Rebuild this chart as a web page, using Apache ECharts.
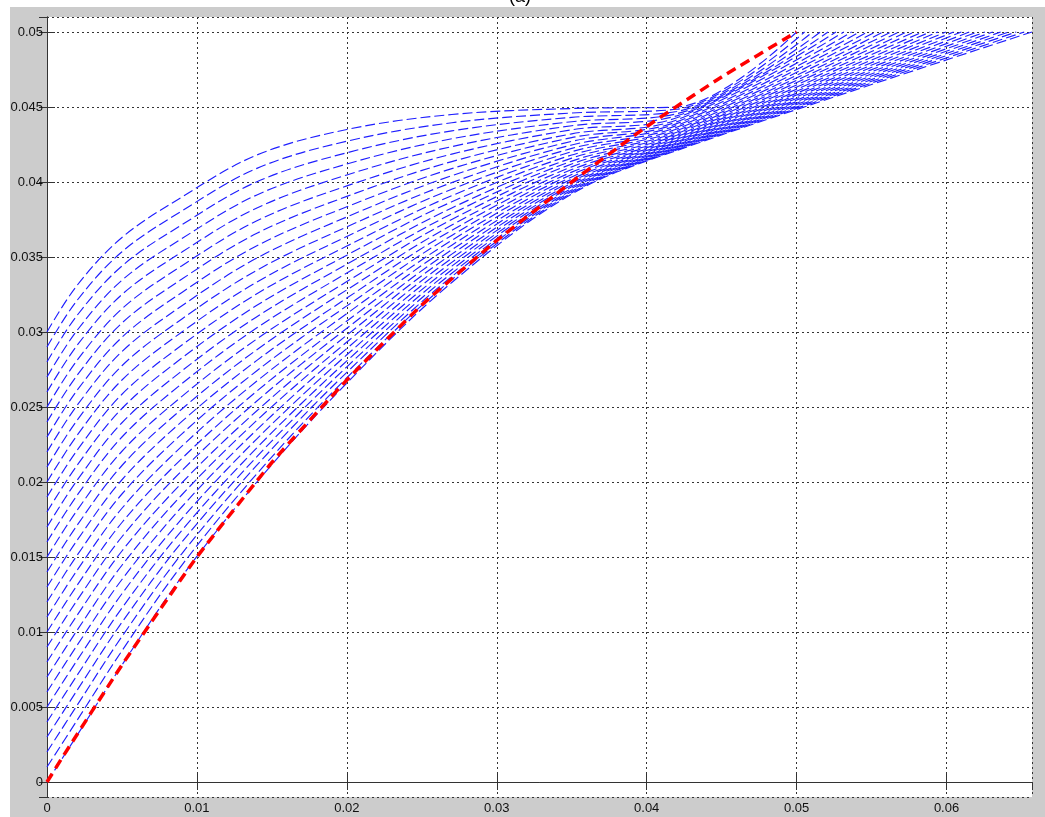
<!DOCTYPE html>
<html>
<head>
<meta charset="utf-8">
<title>(a)</title>
<script src="https://cdn.jsdelivr.net/npm/echarts@6/dist/echarts.min.js"></script>
<style>
html, body { margin: 0; padding: 0; background: #fff; }
#main { width: 1045px; height: 817px; }
</style>
</head>
<body>
<div id="main"></div>
<script>
var stationX = [0, 0.002, 0.005, 0.009, 0.014, 0.02, 0.027, 0.035, 0.042];

// one value per blue curve (31 curves, bottom to top) at each station
var yAt0000 = [0, 0.001, 0.002, 0.003, 0.004, 0.005, 0.006, 0.007, 0.008, 0.009, 0.01, 0.011, 0.012, 0.013, 0.014, 0.015, 0.016, 0.017, 0.018, 0.019, 0.02, 0.021, 0.022, 0.023, 0.024, 0.025, 0.026, 0.027, 0.028, 0.029, 0.03];
var yAt0002 = [0.0031, 0.0041, 0.0051, 0.0061, 0.0071, 0.0081, 0.0091, 0.0101, 0.0111, 0.0121, 0.0131, 0.0141, 0.0151, 0.0161, 0.0171, 0.0181, 0.0191, 0.0201, 0.0211, 0.0221, 0.0231, 0.0241, 0.0251, 0.0261, 0.0271, 0.0281, 0.0291, 0.0301, 0.0311, 0.0321, 0.0331];
var yAt0005 = [0.0078, 0.00875, 0.0097, 0.01065, 0.0116, 0.01255, 0.0135, 0.01445, 0.0154, 0.01635, 0.0173, 0.01825, 0.0192, 0.02015, 0.0211, 0.02205, 0.023, 0.02395, 0.0249, 0.02585, 0.0268, 0.02775, 0.0287, 0.02965, 0.0306, 0.03155, 0.0325, 0.03345, 0.0344, 0.03535, 0.0363];
var yAt0009 = [0.0137, 0.01446, 0.01523, 0.016, 0.01678, 0.01756, 0.01835, 0.01915, 0.01995, 0.02076, 0.02157, 0.02239, 0.02321, 0.02404, 0.02487, 0.02571, 0.02656, 0.02741, 0.02827, 0.02913, 0.03, 0.03087, 0.03175, 0.03264, 0.03353, 0.03442, 0.03533, 0.03623, 0.03715, 0.03807, 0.039];
var yAt0014 = [0.02, 0.02055, 0.02112, 0.02169, 0.02228, 0.02288, 0.02349, 0.02411, 0.02475, 0.0254, 0.02606, 0.02673, 0.02742, 0.02811, 0.02882, 0.02954, 0.03028, 0.03102, 0.03178, 0.03255, 0.03333, 0.03412, 0.03493, 0.03575, 0.03658, 0.03742, 0.03827, 0.03914, 0.04002, 0.04091, 0.0418];
var yAt0020 = [0.0266, 0.02695, 0.02731, 0.02768, 0.02807, 0.02848, 0.0289, 0.02933, 0.02979, 0.03025, 0.03073, 0.03123, 0.03174, 0.03226, 0.03281, 0.03336, 0.03393, 0.03452, 0.03512, 0.03573, 0.03637, 0.03701, 0.03767, 0.03835, 0.03904, 0.03974, 0.04047, 0.0412, 0.04195, 0.04272, 0.0435];
var yAt0027 = [0.0333, 0.03349, 0.0337, 0.03392, 0.03415, 0.03439, 0.03464, 0.03491, 0.03519, 0.03548, 0.03579, 0.03611, 0.03644, 0.03678, 0.03713, 0.0375, 0.03788, 0.03827, 0.03868, 0.03909, 0.03952, 0.03996, 0.04042, 0.04089, 0.04136, 0.04186, 0.04236, 0.04288, 0.04341, 0.04395, 0.0445];
var yAt0035 = [0.0392, 0.03928, 0.03937, 0.03946, 0.03957, 0.03968, 0.03979, 0.03992, 0.04005, 0.04019, 0.04034, 0.0405, 0.04066, 0.04083, 0.04101, 0.0412, 0.04139, 0.04159, 0.0418, 0.04202, 0.04224, 0.04247, 0.04271, 0.04296, 0.04321, 0.04348, 0.04375, 0.04402, 0.04431, 0.0446, 0.0449];
var yAt0042 = [0.0421, 0.04214, 0.04219, 0.04223, 0.04229, 0.04234, 0.0424, 0.04247, 0.04253, 0.04261, 0.04268, 0.04276, 0.04284, 0.04293, 0.04302, 0.04312, 0.04322, 0.04332, 0.04342, 0.04353, 0.04365, 0.04377, 0.04389, 0.04401, 0.04414, 0.04428, 0.04441, 0.04455, 0.0447, 0.04485, 0.045];

// where each blue curve finishes on the top line
var endX = [0.0657, 0.06518, 0.06465, 0.06413, 0.06361, 0.06308, 0.06256, 0.06204, 0.06152, 0.06099, 0.06047, 0.05995, 0.05942, 0.0589, 0.05838, 0.05785, 0.05733, 0.05681, 0.05629, 0.05576, 0.05524, 0.05472, 0.05419, 0.05367, 0.05315, 0.05262, 0.0521, 0.05158, 0.05106, 0.05053, 0.05];
var endY = 0.05;

// red dashed line
var redX = [0, 0.001, 0.005, 0.01, 0.015, 0.02, 0.025, 0.03, 0.035, 0.04, 0.045, 0.05];
var redY = [0, 0.0016, 0.0078, 0.015, 0.0213, 0.0268, 0.0318, 0.0361, 0.04, 0.0437, 0.047, 0.05];

var stationY = [yAt0000, yAt0002, yAt0005, yAt0009, yAt0014, yAt0020, yAt0027, yAt0035, yAt0042];

var chartDom = document.getElementById('main');
var myChart = echarts.init(chartDom);
var option;

var series = [];
for (var k = 0; k < endX.length; k++) {
  var pts = [];
  for (var i = 0; i < stationX.length; i++) {
    pts.push([stationX[i], stationY[i][k]]);
  }
  pts.push([endX[k], endY]);
  series.push({
    type: 'line',
    data: pts,
    showSymbol: false,
    smooth: 0.35,
    silent: true,
    z: 2,
    lineStyle: { color: '#1f1fff', width: 1.15, type: [10, 4] }
  });
}
series.push({
  type: 'line',
  data: redX.map(function (x, i) { return [x, redY[i]]; }),
  showSymbol: false,
  smooth: 0.15,
  silent: true,
  z: 5,
  lineStyle: { color: '#ff0000', width: 3.5, type: [10, 6] }
});

var labelFont = { color: '#111', fontFamily: 'Liberation Sans, Arial, sans-serif', fontSize: 13 };
var frameLine = { show: true, lineStyle: { color: '#333', width: 1 } };
var innerTick = { show: true, inside: true, length: 8, lineStyle: { color: '#333', width: 1 } };
var dotted = { show: true, lineStyle: { color: '#333', width: 1, type: [2, 3] } };

option = {
  animation: false,
  backgroundColor: '#ffffff',
  graphic: [
    { type: 'rect', z: -100, silent: true, shape: { x: 10, y: 7, width: 1035, height: 810 }, style: { fill: '#cccccc' } },
    { type: 'text', z: 10, silent: true, x: 520, y: 6, style: { text: '(a)', fontSize: 18, fontFamily: 'Liberation Sans, Arial', fill: '#000', align: 'center', verticalAlign: 'bottom' } }
  ],
  grid: { left: 47, right: 13, top: 17, bottom: 20, show: true, backgroundColor: '#ffffff', borderWidth: 0 },
  xAxis: [
    {
      type: 'value', position: 'bottom', min: 0, max: 0.0657, splitNumber: 7,
      axisLine: frameLine, axisTick: innerTick, splitLine: dotted,
      axisLabel: Object.assign({ margin: 5, showMinLabel: true, showMaxLabel: false }, labelFont)
    },
    {
      type: 'value', position: 'top', min: 0, max: 0.0657, splitNumber: 7,
      axisLine: frameLine, axisTick: innerTick, splitLine: { show: false }, axisLabel: { show: false }
    }
  ],
  yAxis: [
    {
      type: 'value', position: 'left', min: -0.001, max: 0.051, splitNumber: 10,
      axisLine: frameLine, axisTick: innerTick, splitLine: dotted,
      axisLabel: Object.assign({ margin: 4, showMinLabel: false, showMaxLabel: false }, labelFont)
    },
    {
      type: 'value', position: 'right', min: -0.001, max: 0.051, splitNumber: 10,
      axisLine: frameLine, axisTick: innerTick, splitLine: { show: false }, axisLabel: { show: false }
    }
  ],
  series: series
};

option && myChart.setOption(option);
</script>
</body>
</html>
